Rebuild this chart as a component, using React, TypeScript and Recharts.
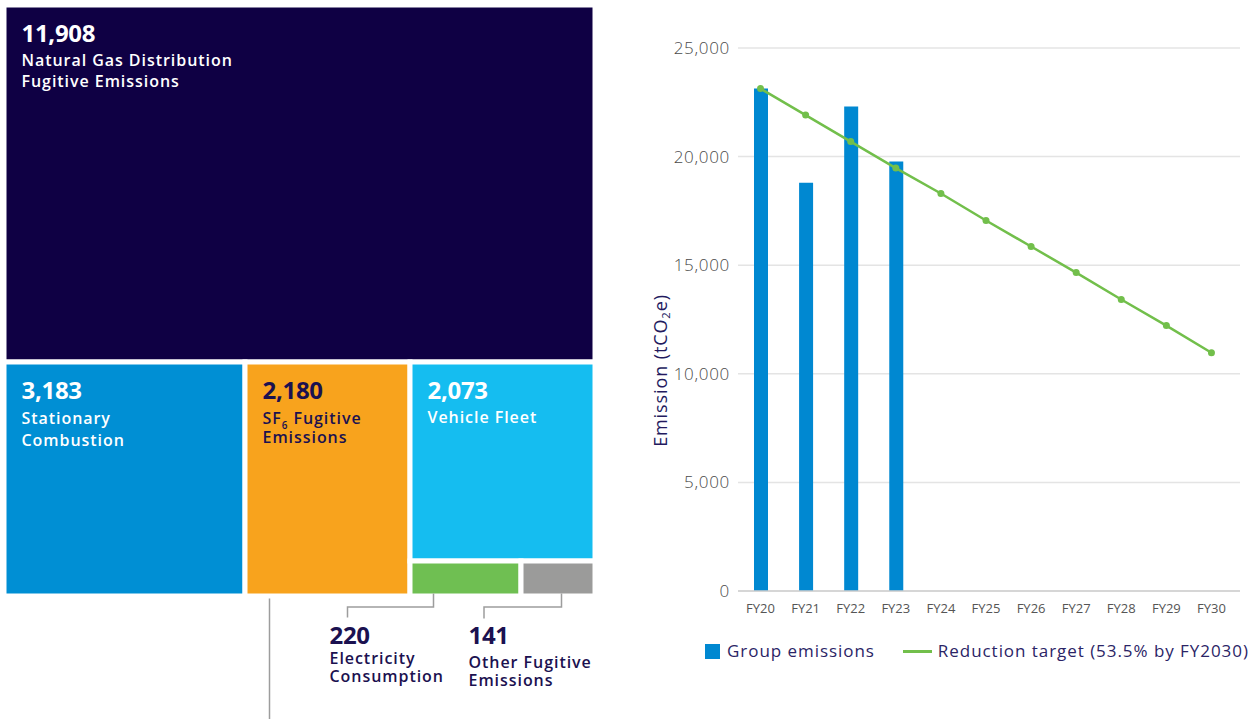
import React from "react";
import { Treemap, ComposedChart, Bar, Line, XAxis, YAxis, CartesianGrid, Legend } from "recharts";

const FONT = "'Open Sans', 'DejaVu Sans', sans-serif";
const NAVY = "#1b1150";
const BAR_COLOR = "#0088d1";
const LINE_COLOR = "#72bf4b";

// emission sources (tCO2e), label lines as printed
const sourceLabels = [
  ["Natural Gas Distribution", "Fugitive Emissions"],
  ["Stationary", "Combustion"],
  ["SF₆ Fugitive", "Emissions"],
  ["Vehicle Fleet"],
  ["Electricity", "Consumption"],
  ["Other Fugitive", "Emissions"],
];
const sourceValues = [11908, 3183, 2180, 2073, 220, 141];
const sourceColors = ["#0f0044", "#008fd4", "#f8a31d", "#15bdf0", "#6fbf52", "#9b9b9a"];
const sourceTextColors = ["#fff", "#fff", NAVY, "#fff", NAVY, NAVY];

// group emissions vs reduction pathway
const years = ["FY20", "FY21", "FY22", "FY23", "FY24", "FY25", "FY26", "FY27", "FY28", "FY29", "FY30"];
const groupEmissions = [23140, 18800, 22310, 19780, null, null, null, null, null, null, null];
const reductionTarget = [23130, 21910, 20690, 19470, 18300, 17060, 15860, 14660, 13420, 12220, 10970];
const yTicks = [0, 5000, 10000, 15000, 20000, 25000];

const treeData = sourceLabels.map((lines, i) => ({
  name: lines.join(" "),
  lines,
  value: sourceValues[i],
  fill: sourceColors[i],
  textColor: sourceTextColors[i],
}));

const chartData = years.map((year, i) => ({
  year,
  emissions: groupEmissions[i],
  target: reductionTarget[i],
}));

// label placement per cell (offsets from the visible cell edges)
const LABEL_LAYOUT: Record<string, any> = {
  "Natural Gas Distribution Fugitive Emissions": { gap: 23.5, step: 21.8 },
  "Stationary Combustion": { gap: 25, step: 22.3 },
  "SF₆ Fugitive Emissions": { gap: 25, step: 19, tail: { dx: 22, from: 5, to: 130 } },
  "Vehicle Fleet": { gap: 24, step: 22 },
  "Electricity Consumption": {
    gap: 20, step: 18.8,
    callout: { lineDx: 21, elbow: 13.5, bendDx: -65, end: 24, textDx: -83, textDy: 50 },
  },
  "Other Fugitive Emissions": {
    gap: 24, step: 18.4,
    callout: { lineDx: 38, elbow: 13.5, bendDx: -39.5, end: 25, textDx: -55, textDy: 50 },
  },
};

const SUBS = "₀₁₂₃₄₅₆₇₈₉";

function subText(s: string, size: number) {
  const off = size * 0.3;
  let down = false;
  return s
    .split(/([₀-₉])/)
    .filter(Boolean)
    .map((part, k) => {
      const d = SUBS.indexOf(part);
      if (d >= 0) {
        const dy = down ? 0 : off;
        down = true;
        return (
          <tspan key={k} dy={dy} fontSize={size * 0.62}>
            {d}
          </tspan>
        );
      }
      const dy = down ? -off : 0;
      down = false;
      return (
        <tspan key={k} dy={dy}>
          {part}
        </tspan>
      );
    });
}

function TreeCell(props: any) {
  const { x, y, width, height, depth, name, value, fill, textColor, lines } = props;
  if (depth !== 1 || !lines) return null;
  const sw = 5;
  const vx = x + sw / 2;
  const vy = y + sw / 2;
  const vb = y + height - sw / 2;
  const lay = LABEL_LAYOUT[name] || { gap: 24, step: 22 };
  const call = lay.callout;
  const tx = call ? vx + call.textDx : vx + 15;
  const ty = call ? vb + call.textDy : vy + 34.5;
  const labelSize = 16;

  return (
    <g>
      <rect x={x} y={y} width={width} height={height} fill={fill} stroke="#fff" strokeWidth={sw} />
      {call && (
        <polyline
          points={`${vx + call.lineDx},${vb} ${vx + call.lineDx},${vb + call.elbow} ${vx + call.bendDx},${vb + call.elbow} ${vx + call.bendDx},${vb + call.end}`}
          fill="none"
          stroke="#9d9d9d"
          strokeWidth={1.5}
        />
      )}
      {lay.tail && (
        <line
          x1={vx + lay.tail.dx}
          y1={vb + lay.tail.from}
          x2={vx + lay.tail.dx}
          y2={vb + lay.tail.to}
          stroke="#9d9d9d"
          strokeWidth={1.5}
        />
      )}
      <text x={tx} y={ty} fill={textColor} fontFamily={FONT} fontWeight={700} fontSize={24} letterSpacing={-0.3}>
        {value.toLocaleString("en-US")}
      </text>
      {lines.map((line: string, k: number) => (
        <text
          key={k}
          x={tx}
          y={ty + lay.gap + k * lay.step}
          fill={textColor}
          fontFamily={FONT}
          fontWeight={600}
          fontSize={labelSize}
          letterSpacing={0.95}
        >
          {subText(line, labelSize)}
        </text>
      ))}
    </g>
  );
}

const YLabel = (props: any) => {
  const vb = props.viewBox || { x: 630, y: 48, width: 108, height: 543 };
  const cx = vb.x + 30;
  const cy = vb.y + vb.height / 2 + 51;
  return (
    <text
      x={cx}
      y={cy}
      transform={`rotate(-90 ${cx} ${cy})`}
      textAnchor="middle"
      dominantBaseline="central"
      fill="#231a5e"
      fontFamily={FONT}
      fontSize={18}
      letterSpacing={0.9}
    >
      {subText("Emission (tCO₂e)", 18)}
    </text>
  );
};

const LegendContent = (props: any) => {
  const payload = props.payload || [];
  return (
    <div
      style={{
        display: "flex",
        alignItems: "center",
        paddingLeft: 75,
        fontFamily: FONT,
        fontSize: 17,
        lineHeight: "24px",
        color: "#2b2466",
        letterSpacing: 0.95,
      }}
    >
      {payload.map((item: any, i: number) => (
        <div key={i} style={{ display: "flex", alignItems: "center", marginRight: 28 }}>
          {item.type === "line" ? (
            <span style={{ width: 29, height: 3, background: item.color, marginRight: 6, display: "inline-block" }} />
          ) : (
            <span style={{ width: 15, height: 15, background: item.color, marginRight: 7, display: "inline-block" }} />
          )}
          <span style={{ whiteSpace: "nowrap" }}>{item.value}</span>
        </div>
      ))}
    </div>
  );
};

export default function App() {
  return (
    <div style={{ position: "absolute", left: 0, top: 0, width: 1258, height: 719, background: "#fff" }}>
      <style>{`.recharts-surface, .recharts-wrapper { overflow: visible !important; }`}</style>
      <div style={{ position: "absolute", left: 4, top: 5 }}>
        <Treemap
          width={591}
          height={591}
          data={treeData}
          dataKey="value"
          nameKey="name"
          aspectRatio={1}
          isAnimationActive={false}
          content={(p: any) => <TreeCell {...p} />}
        />
      </div>
      <div style={{ position: "absolute", left: 630, top: 0 }}>
        <ComposedChart
          width={628}
          height={719}
          data={chartData}
          margin={{ top: 48, right: 18, bottom: 98, left: 0 }}
        >
          <CartesianGrid vertical={false} stroke="#e4e4e4" strokeWidth={1.5} />
          <XAxis
            dataKey="year"
            interval={0}
            tickLine={false}
            axisLine={{ stroke: "#cfcfcf", strokeWidth: 1.5 }}
            tickMargin={7}
            padding={{ left: 0, right: 6 }}
            tick={{ fill: "#555", fontSize: 13, fontFamily: FONT }}
          />
          <YAxis
            width={108}
            domain={[0, 25000]}
            ticks={yTicks}
            axisLine={false}
            tickLine={false}
            tickFormatter={(v: number) => v.toLocaleString("en-US")}
            tick={{ fill: "#4a4a4a", fontSize: 17, fontWeight: 300, fontFamily: FONT, letterSpacing: 0.7 }}
            label={<YLabel />}
          />
          <Legend
            verticalAlign="middle"
            align="center"
            layout="horizontal"
            wrapperStyle={{ top: 639, left: 0, width: 628 }}
            content={<LegendContent />}
          />
          <Bar dataKey="emissions" name="Group emissions" fill={BAR_COLOR} barSize={14} isAnimationActive={false} />
          <Line
            dataKey="target"
            name="Reduction target (53.5% by FY2030)"
            type="linear"
            stroke={LINE_COLOR}
            strokeWidth={2.5}
            dot={{ r: 3.5, fill: LINE_COLOR, stroke: LINE_COLOR, strokeWidth: 0 }}
            activeDot={false}
            legendType="line"
            isAnimationActive={false}
          />
        </ComposedChart>
      </div>
    </div>
  );
}
